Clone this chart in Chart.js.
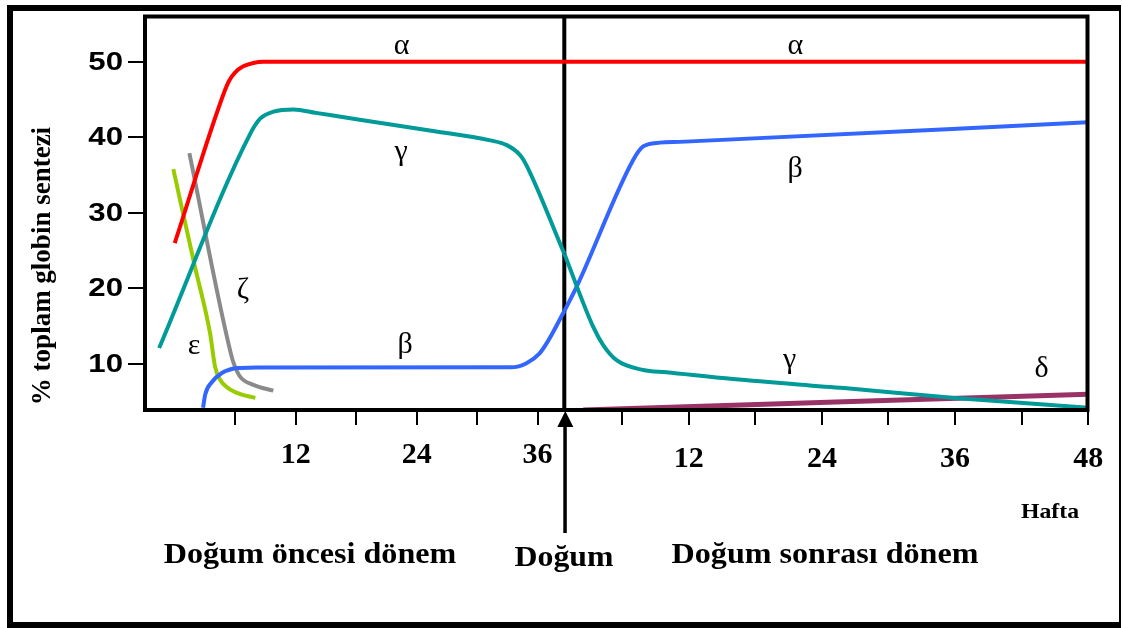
<!DOCTYPE html>
<html lang="tr">
<head>
<meta charset="utf-8">
<title>Globin sentezi</title>
<script src="https://cdn.jsdelivr.net/npm/chart.js@4/dist/chart.umd.min.js"></script>
<style>
  html, body { margin: 0; padding: 0; background: #fff; }
  #kutu { position: relative; width: 1123px; height: 628px; }
</style>
</head>
<body>
<div id="kutu"><canvas id="grafik" width="1123" height="628"></canvas></div>
<script>
// Hafta ekseni: doğum öncesi (gebelik haftası) ve doğum sonrası (yaş, hafta)
const dogumHaftasi = 38.65;
const onceTikler = [6, 12, 18, 24, 30, 36];
const onceEtiketler = [12, 24, 36];
const sonraTikler = [6, 12, 18, 24, 30, 36, 42, 48];
const sonraEtiketler = [12, 24, 36, 48];
const yEtiketler = [10, 20, 30, 40, 50];

// [hafta, % toplam globin sentezi]
const alfaOnce   = [[0.0, 26.0], [5.0, 46.3], [5.4, 47.5], [6.0, 48.6], [6.8, 49.4], [7.8, 49.85], [8.8, 50.0], [dogumHaftasi, 50.0]];
const alfaSonra  = [[0.8, 50.0], [48, 50.0]];
const gamaOnce   = [[-1.55, 12.1], [7.5, 40.5], [8.5, 42.5], [9.8, 43.4], [11.8, 43.7], [14.0, 43.24], [18.5, 42.3], [25.3, 40.9],
                    [31.3, 39.6], [32.9, 39.0], [34.3, 37.6], [34.9, 36.3], [dogumHaftasi, 24.6]];
const gamaSonra  = [[0.8, 24.6], [3.4, 14.9], [4.3, 12.5], [5.5, 10.5], [7.9, 9.2], [10.0, 8.9], [16.0, 8.0], [26.0, 6.8],
                    [36.0, 5.5], [48, 4.2]];
const betaOnce   = [[2.81, 4.2], [3.03, 6.0], [3.67, 7.58], [4.64, 8.76], [5.84, 9.39], [6.48, 9.47], [8.1, 9.52], [33.4, 9.55],
                    [34.9, 10.1], [36.2, 11.4], [37.0, 12.95], [dogumHaftasi, 17.0]];
const betaSonra  = [[0.8, 17.0], [1.9, 20.2], [7.0, 37.0], [7.9, 38.8], [9.4, 39.3], [11.2, 39.4], [48, 42.0]];
const zetaOnce   = [[1.45, 37.9], [5.6, 11.2], [5.91, 9.87], [6.48, 8.32], [7.8, 7.22], [9.78, 6.47]];
const epsilonOnce = [[-0.14, 35.8], [0.53, 31.7], [2.0, 22.9], [3.5, 14.1], [4.0, 9.65], [4.5, 7.9], [5.3, 6.8], [6.5, 6.0], [8.0, 5.5]];
const deltaSonra = [[2.5, 3.9], [48, 6.0]];

// Eğri adları: [metin, eksen, hafta, değer]
const egriAdlari = [
  ['α', 'pre', 22.5, 51.1], ['α', 'post', 21.6, 51.1],
  ['γ', 'pre', 22.45, 37.0], ['β', 'post', 21.6, 34.75],
  ['ζ', 'pre', 6.78, 18.7], ['ε', 'pre', 1.91, 11.3],
  ['β', 'pre', 22.85, 11.45], ['γ', 'post', 21.1, 9.45],
  ['δ', 'post', 43.8, 8.3]
];

const nokta = arr => arr.map(([x, y]) => ({ x, y }));
const seri = (veri, eksen, renk, kalinlik) => ({
  data: nokta(veri), xAxisID: eksen, yAxisID: 'y',
  borderColor: renk, borderWidth: kalinlik, pointRadius: 0,
  cubicInterpolationMode: 'monotone', fill: false, borderCapStyle: 'butt'
});

const KIRMIZI = '#ff0000', TURKUAZ = '#009a98', MAVI = '#3366ff', GRI = '#8a8a8a', YESIL = '#99cc00', MOR = '#993366';

// yatayda genişletilmiş metin
function genisYazi(ctx, metin, x, y, sx) {
  ctx.save();
  ctx.translate(x, y);
  ctx.scale(sx, 1);
  ctx.fillText(metin, 0, 0);
  ctx.restore();
}

const cizimler = {
  id: 'cizimler',
  beforeDatasetsDraw(chart) {
    const { ctx, chartArea: a, scales } = chart;
    const x = scales.pre.getPixelForValue(dogumHaftasi);
    ctx.save();
    ctx.fillStyle = '#000';
    ctx.fillRect(x - 2, a.top, 4, a.bottom - a.top);
    ctx.restore();
  },
  afterDatasetsDraw(chart) {
    const { ctx, chartArea: a, scales } = chart;
    const pre = scales.pre, post = scales.post, y = scales.y;
    ctx.save();
    // grafik çerçevesi
    ctx.strokeStyle = '#000';
    ctx.lineWidth = 4;
    ctx.strokeRect(a.left, a.top, a.right - a.left, a.bottom - a.top);

    // y ekseni
    ctx.lineWidth = 2;
    ctx.fillStyle = '#000';
    ctx.font = 'bold 26px "Liberation Sans", Arial, sans-serif';
    ctx.textAlign = 'right';
    ctx.textBaseline = 'middle';
    yEtiketler.forEach(v => {
      const py = Math.round(y.getPixelForValue(v));
      ctx.beginPath(); ctx.moveTo(a.left - 17, py); ctx.lineTo(a.left, py); ctx.stroke();
      genisYazi(ctx, String(v), 123, py + 1, 1.2);
    });

    // x ekseni tikleri
    const tik = px => { ctx.beginPath(); ctx.moveTo(px, a.bottom); ctx.lineTo(px, a.bottom + 15); ctx.stroke(); };
    onceTikler.forEach(v => tik(Math.round(pre.getPixelForValue(v))));
    sonraTikler.forEach(v => tik(Math.round(post.getPixelForValue(v))));
    ctx.font = 'bold 30px "Liberation Serif", "Times New Roman", serif';
    ctx.textAlign = 'center';
    ctx.textBaseline = 'alphabetic';
    onceEtiketler.forEach(v => ctx.fillText(String(v), pre.getPixelForValue(v), 463));
    sonraEtiketler.forEach(v => ctx.fillText(String(v), post.getPixelForValue(v), 467));

    // doğum oku
    const dx = pre.getPixelForValue(dogumHaftasi) + 1;
    ctx.fillRect(dx - 2, 425, 3.5, 108);
    ctx.beginPath();
    ctx.moveTo(dx, a.bottom + 1);
    ctx.lineTo(dx - 8, a.bottom + 17);
    ctx.lineTo(dx + 8, a.bottom + 17);
    ctx.closePath();
    ctx.fill();

    // eğri adları
    ctx.font = '30px "Liberation Serif", "Times New Roman", serif';
    ctx.textAlign = 'center';
    egriAdlari.forEach(([t, eksen, hx, hv]) => {
      ctx.fillText(t, scales[eksen].getPixelForValue(hx), y.getPixelForValue(hv));
    });
    ctx.restore();
  },
  afterDraw(chart) {
    const { ctx } = chart;
    ctx.save();
    ctx.fillStyle = '#000';
    // eksen başlıkları
    ctx.font = 'bold 30px "Liberation Serif", "Times New Roman", serif';
    ctx.textAlign = 'center';
    ctx.textBaseline = 'alphabetic';
    genisYazi(ctx, 'Doğum öncesi dönem', 310, 563, 1.07);
    genisYazi(ctx, 'Doğum', 564, 566, 1.06);
    genisYazi(ctx, 'Doğum sonrası dönem', 825, 563, 1.07);
    ctx.font = 'bold 22px "Liberation Serif", "Times New Roman", serif';
    genisYazi(ctx, 'Hafta', 1050, 518, 1.08);
    ctx.save();
    ctx.translate(50, 266);
    ctx.rotate(-Math.PI / 2);
    ctx.font = 'bold 27px "Liberation Serif", "Times New Roman", serif';
    ctx.fillText('% toplam globin sentezi', 0, 0);
    ctx.restore();
    // dış çerçeve
    ctx.fillRect(7, 5, 6, 623);
    ctx.fillRect(7, 5, 1114, 6);
    ctx.fillRect(7, 622, 1114, 6);
    ctx.fillRect(1119, 5, 2, 623);
    ctx.restore();
  }
};

new Chart(document.getElementById('grafik'), {
  type: 'line',
  data: {
    datasets: [
      seri(alfaOnce, 'pre', KIRMIZI, 4),
      seri(alfaSonra, 'post', KIRMIZI, 4),
      seri(gamaOnce, 'pre', TURKUAZ, 4),
      seri(gamaSonra, 'post', TURKUAZ, 4),
      seri(betaOnce, 'pre', MAVI, 4),
      seri(betaSonra, 'post', MAVI, 4),
      seri(zetaOnce, 'pre', GRI, 4),
      seri(epsilonOnce, 'pre', YESIL, 4),
      seri(deltaSonra, 'post', MOR, 5)
    ]
  },
  options: {
    responsive: false,
    animation: false,
    devicePixelRatio: 1,
    layout: { padding: { left: 145, top: 16.5, right: 35.5, bottom: 218 } },
    plugins: { legend: { display: false }, tooltip: { enabled: false } },
    scales: {
      pre:  { type: 'linear', display: false, min: -2.95, max: 90.56 },
      post: { type: 'linear', display: false, min: -36.98, max: 47.93 },
      y:    { type: 'linear', display: false, min: 3.9, max: 56 }
    }
  },
  plugins: [cizimler]
});
</script>
</body>
</html>
